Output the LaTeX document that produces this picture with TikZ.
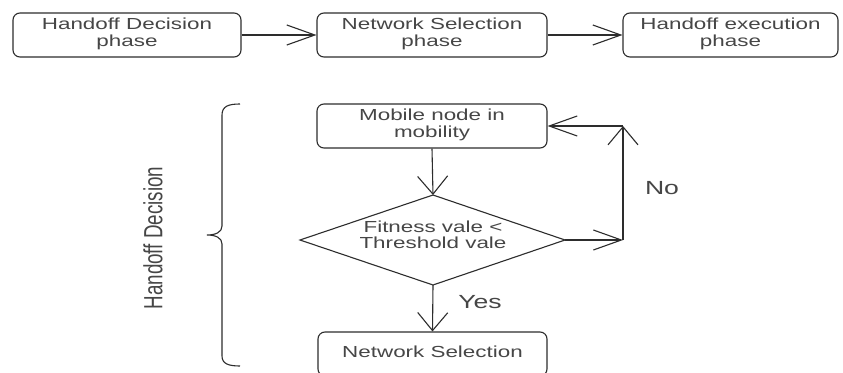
\documentclass[tikz,border=0pt]{standalone}
\usepackage{fontspec}
\setmainfont{Liberation Sans}
\usetikzlibrary{arrows.meta}
\definecolor{linec}{RGB}{45,45,45}
\definecolor{txtc}{RGB}{70,70,70}
% horizontally widened, centred multi-line text
\newcommand\widetext[2][1.4]{\scalebox{#1}[1]{\begin{tabular}{@{}c@{}}#2\end{tabular}}}
\begin{document}
\begin{tikzpicture}[x=1pt, y=-1pt,
  line/.style={draw=linec, line width=1.1pt},
  box/.style={draw=linec, line width=1.1pt, rounded corners=7pt, inner sep=0pt,
    text=txtc, font=\fontsize{16}{17}\selectfont},
  harrow/.style={line, -{Straight Barb[length=28pt,width=20pt]}},
  varrow/.style={line, -{Straight Barb[length=18pt,width=30pt]}},
  lbl/.style={text=txtc, font=\fontsize{19}{20}\selectfont, inner sep=0pt}]
\useasboundingbox (0,0) rectangle (843,372);
\clip (0,0) rectangle (843,372);
\fill[white] (0,0) rectangle (843,372);

% phase overview
\node[box, minimum width=228pt, minimum height=44pt] (p1) at (127,35)
  {\widetext{Handoff Decision\\phase}};
\node[box, minimum width=230pt, minimum height=44pt] (p2) at (432,35)
  {\widetext{Network Selection\\phase}};
\node[box, minimum width=215pt, minimum height=44pt] (p3) at (730.5,35)
  {\widetext{Handoff execution\\phase}};
\draw[harrow] (p1.east) -- (p2.west);
\draw[harrow] (p2.east) -- (p3.west);

% decision flow
\node[box, minimum width=230pt, minimum height=44pt] (mob) at (432,126)
  {\widetext{Mobile node in\\mobility}};
\coordinate (dN) at (433,195);
\coordinate (dE) at (565,240);
\coordinate (dS) at (433,285);
\coordinate (dW) at (300,240);
\draw[line, line join=miter] (dN) -- (dE) -- (dS) -- (dW) -- cycle;
\node[text=txtc, font=\fontsize{16}{16.5}\selectfont, inner sep=0pt] (dtxt) at (433,237)
  {\widetext{Fitness vale <\\Threshold vale}};
\node[box, minimum width=229pt, minimum height=44pt] (net) at (432.5,354)
  {\widetext{Network Selection}};

\coordinate (c1) at (623,240);
\coordinate (c2) at (623,126);
\draw[varrow] (mob.south) -- (dN);
\draw[harrow] (dE) -- (c1);
\draw[varrow] (c1) -- (c2);
\draw[harrow] (c2) -- (mob.east);
\draw[varrow] (dS) -- (net.north);

\node[lbl] (no) at (662,188) {\scalebox{1.4}[1]{No}};
\node[lbl] (yes) at (480,302) {\scalebox{1.4}[1]{Yes}};

% brace grouping the decision steps
\draw[line] (240,104) .. controls (229,104) and (222,106) .. (222,115)
  -- (222,226) .. controls (222,232) and (216,235) .. (207,235)
  .. controls (216,235) and (222,238) .. (222,244)
  -- (222,356) .. controls (222,364) and (229,366) .. (240,366);
\node[text=txtc, font=\fontsize{18.8}{19}\selectfont, inner sep=0pt, rotate=90] (hd) at (153,238)
  {\scalebox{1}[1.4]{Handoff Decision}};
\end{tikzpicture}
\end{document}
